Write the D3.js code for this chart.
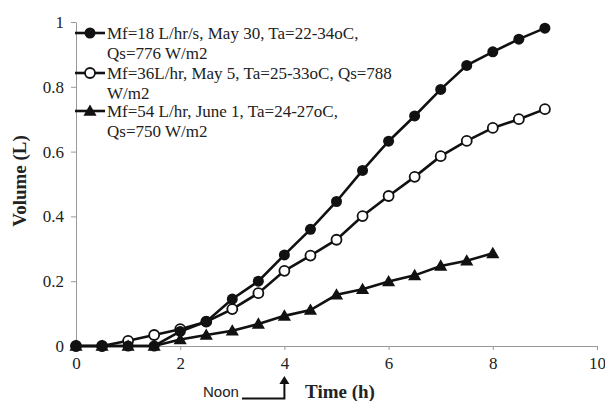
<!DOCTYPE html>
<html><head><meta charset="utf-8">
<script src="https://cdn.jsdelivr.net/npm/d3@7"></script>
<style>body{margin:0;background:#fff}svg{display:block}</style>
</head><body><svg id="c" width="605" height="401"></svg>
<script>
const times = [0,0.5,1,1.5,2,2.5,3,3.5,4,4.5,5,5.5,6,6.5,7,7.5,8,8.5,9];
const vol18 = [0,0,0,0,0.045,0.075,0.145,0.2,0.281,0.36,0.446,0.542,0.632,0.71,0.792,0.866,0.908,0.947,0.981];
const vol36 = [0,0,0.016,0.034,0.052,0.075,0.114,0.163,0.232,0.279,0.328,0.401,0.463,0.522,0.586,0.633,0.673,0.70,0.731];
const times54 = [0,0.5,1,1.5,2,2.5,3,3.5,4,4.5,5,5.5,6,6.5,7,7.5,8];
const vol54 = [0,0,0,0,0.02,0.034,0.047,0.068,0.093,0.111,0.158,0.175,0.199,0.218,0.247,0.263,0.286];
const xTicks = [0,2,4,6,8,10];
const yTicks = [0,0.2,0.4,0.6,0.8,1];
const legendLines = [
  ["Mf=18 L/hr/s, May 30, Ta=22-34oC,","Qs=776 W/m2"],
  ["Mf=36L/hr, May 5, Ta=25-33oC, Qs=788","W/m2"],
  ["Mf=54 L/hr, June 1, Ta=24-27oC,","Qs=750 W/m2"]
];
const serif = "'Liberation Serif','Times New Roman',serif";
const svg = d3.select("#c");
const x = d3.scaleLinear().domain([0,10]).range([76,597]);
const y = d3.scaleLinear().domain([0,1]).range([346,22]);
const axisCol = "#999";

// axes
const xa = svg.append("g").attr("transform","translate(0,346)")
  .call(d3.axisBottom(x).tickValues(xTicks).tickSize(4).tickSizeOuter(0).tickPadding(7));
const ya = svg.append("g").attr("transform","translate(76,0)")
  .call(d3.axisLeft(y).tickValues(yTicks).tickSize(5).tickSizeOuter(0).tickPadding(7).tickFormat(d=>d3.format("")(d)));
[xa,ya].forEach(a=>{
  a.selectAll("path,line").attr("stroke",axisCol).attr("stroke-width",1);
  a.selectAll("text").attr("font-family",serif).attr("font-size",17).attr("fill","#222");
});
xa.selectAll("text").attr("dy","0.71em");

const line = d3.line().x(d=>x(d[0])).y(d=>y(d[1]));
const series = [
  {t:times, v:vol36, kind:"open"},
  {t:times54, v:vol54, kind:"tri"},
  {t:times, v:vol18, kind:"filled"}
];
function marker(g, kind, px, py){
  if(kind==="filled") g.append("circle").attr("cx",px).attr("cy",py).attr("r",5.5).attr("fill","#111");
  else if(kind==="open") g.append("circle").attr("cx",px).attr("cy",py).attr("r",5).attr("fill","#fff").attr("stroke","#111").attr("stroke-width",1.8);
  else g.append("path").attr("d",d3.symbol(d3.symbolTriangle,75)()).attr("transform",`translate(${px},${py+1})`).attr("fill","#111");
}
series.forEach(s=>{
  const pts = s.t.map((t,i)=>[t,s.v[i]]);
  svg.append("path").datum(pts).attr("d",line).attr("fill","none").attr("stroke","#111").attr("stroke-width",2.6);
  const g = svg.append("g");
  pts.forEach(p=>marker(g,s.kind,x(p[0]),y(p[1])));
});

// legend
const kinds = ["filled","open","tri"];
const legY = [33,73,111];
legendLines.forEach((ls,i)=>{
  const g = svg.append("g");
  g.append("line").attr("x1",75).attr("x2",105).attr("y1",legY[i]).attr("y2",legY[i]).attr("stroke","#111").attr("stroke-width",2.6);
  marker(g,kinds[i],90,legY[i]);
  ls.forEach((t,j)=>{
    g.append("text").attr("x",107).attr("y",legY[i]+j*20).attr("dy","0.35em")
      .attr("font-family",serif).attr("font-size",17).attr("fill","#222").text(t);
  });
});

// axis titles
svg.append("text").attr("transform","translate(19,181) rotate(-90)").attr("text-anchor","middle").attr("dy","0.35em")
  .attr("font-family",serif).attr("font-size",19).attr("font-weight","bold").attr("fill","#222").text("Volume (L)");
svg.append("text").attr("x",340).attr("y",391).attr("text-anchor","middle").attr("dy","0.35em")
  .attr("font-family",serif).attr("font-size",19).attr("font-weight","bold").attr("fill","#222").text("Time (h)");
svg.append("text").attr("x",203).attr("y",392).attr("dy","0.35em")
  .attr("font-family","'Liberation Sans',Arial,sans-serif").attr("font-size",15).attr("fill","#222").text("Noon");
// noon arrow
svg.append("path").attr("d",`M242,398.5 H${x(4)} V382`).attr("fill","none").attr("stroke","#111").attr("stroke-width",2);
svg.append("path").attr("d",`M${x(4)-5},384 L${x(4)},376 L${x(4)+5},384 Z`).attr("fill","#111");
</script></body></html>
